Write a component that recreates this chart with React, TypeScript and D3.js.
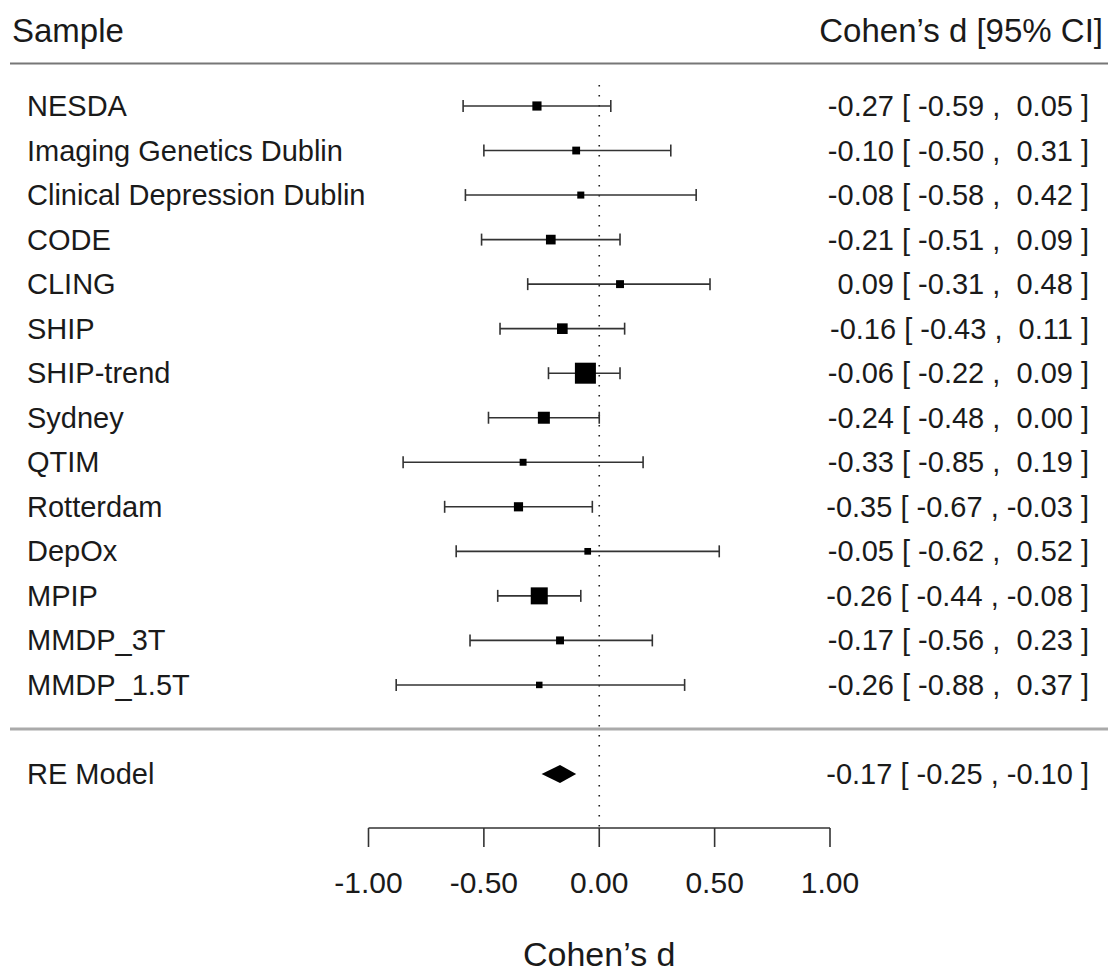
import React, { useEffect, useRef } from 'react';
import * as d3 from 'd3';

const STUDIES = [
  'NESDA',
  'Imaging Genetics Dublin',
  'Clinical Depression Dublin',
  'CODE',
  'CLING',
  'SHIP',
  'SHIP-trend',
  'Sydney',
  'QTIM',
  'Rotterdam',
  'DepOx',
  'MPIP',
  'MMDP_3T',
  'MMDP_1.5T',
];
const ESTIMATES = [-0.27, -0.1, -0.08, -0.21, 0.09, -0.16, -0.06, -0.24, -0.33, -0.35, -0.05, -0.26, -0.17, -0.26];
const LOWER = [-0.59, -0.5, -0.58, -0.51, -0.31, -0.43, -0.22, -0.48, -0.85, -0.67, -0.62, -0.44, -0.56, -0.88];
const UPPER = [0.05, 0.31, 0.42, 0.09, 0.48, 0.11, 0.09, 0.0, 0.19, -0.03, 0.52, -0.08, 0.23, 0.37];

const SUMMARY_LABEL = 'RE Model';
const SUMMARY_EST = -0.17;
const SUMMARY_LB = -0.25;
const SUMMARY_UB = -0.1;

const X_TICKS = [-1, -0.5, 0, 0.5, 1];

// R-style padding: positives get a leading space
const fmt = (v: number) => (v < 0 ? v.toFixed(2) : ' ' + v.toFixed(2));
const ciText = (est: number, lb: number, ub: number) => `${fmt(est)} [ ${fmt(lb)} , ${fmt(ub)} ]`;

export default function App() {
  const svgRef = useRef<SVGSVGElement | null>(null);

  useEffect(() => {
    const svgEl = svgRef.current;
    if (!svgEl) return;
    const width = 1111;
    const height = 973;
    const svg = d3.select(svgEl);
    svg.selectAll('*').remove();
    svg.attr('viewBox', `0 0 ${width} ${height}`);

    const font = '"Liberation Sans", Arial, Helvetica, sans-serif';
    const ink = '#1a1a1a';
    const lineCol = '#333';

    const x = d3.scaleLinear().domain([-1, 1]).range([368.5, 830]);
    // row positions: 0..13 studies, 15 = summary
    const y = d3.scaleLinear().domain([0, 15]).range([106, 774]);

    const data = STUDIES.map((name, i) => {
      const se = (UPPER[i] - LOWER[i]) / 3.92;
      return { name, est: ESTIMATES[i], lb: LOWER[i], ub: UPPER[i], w: 1 / (se * se), row: i };
    });
    // square size grows with inverse-variance weight
    const size = d3
      .scaleLinear()
      .domain(d3.extent(data, d => d.w) as [number, number])
      .range([6.5, 21]);

    svg.append('rect').attr('width', width).attr('height', height).attr('fill', '#fff');

    // header
    svg.append('text').attr('x', 12).attr('y', 42).attr('font-family', font)
      .attr('font-size', 33).attr('fill', ink).text('Sample');
    svg.append('text').attr('x', 1103).attr('y', 42).attr('text-anchor', 'end')
      .attr('font-family', font).attr('font-size', 33).attr('fill', ink)
      .text('Cohen\u2019s d [95% CI]');

    svg.append('line').attr('x1', 10).attr('x2', 1108).attr('y1', 63.5).attr('y2', 63.5)
      .attr('stroke', '#777').attr('stroke-width', 2);
    svg.append('line').attr('x1', 10).attr('x2', 1108).attr('y1', 729).attr('y2', 729)
      .attr('stroke', '#aaa').attr('stroke-width', 3);

    // reference line at 0
    svg.append('line').attr('x1', x(0)).attr('x2', x(0)).attr('y1', 85).attr('y2', 828)
      .attr('stroke', '#222').attr('stroke-width', 1.6).attr('stroke-dasharray', '1.6 8.4');

    // study rows
    const rows = svg.append('g').selectAll('g').data(data).enter().append('g');

    rows.append('line')
      .attr('x1', d => x(d.lb)).attr('x2', d => x(d.ub))
      .attr('y1', d => y(d.row)).attr('y2', d => y(d.row))
      .attr('stroke', lineCol).attr('stroke-width', 1.6);
    rows.append('line')
      .attr('x1', d => x(d.lb)).attr('x2', d => x(d.lb))
      .attr('y1', d => y(d.row) - 6).attr('y2', d => y(d.row) + 6)
      .attr('stroke', lineCol).attr('stroke-width', 1.6);
    rows.append('line')
      .attr('x1', d => x(d.ub)).attr('x2', d => x(d.ub))
      .attr('y1', d => y(d.row) - 6).attr('y2', d => y(d.row) + 6)
      .attr('stroke', lineCol).attr('stroke-width', 1.6);
    rows.append('rect')
      .attr('x', d => x(d.est) - size(d.w) / 2)
      .attr('y', d => y(d.row) - size(d.w) / 2)
      .attr('width', d => size(d.w)).attr('height', d => size(d.w))
      .attr('fill', '#000');

    rows.append('text')
      .attr('x', 27).attr('y', d => y(d.row) + 10)
      .attr('font-family', font).attr('font-size', 29).attr('fill', ink)
      .text(d => d.name);
    rows.append('text')
      .attr('x', 1089).attr('y', d => y(d.row) + 10).attr('text-anchor', 'end')
      .attr('font-family', font).attr('font-size', 29).attr('fill', ink)
      .style('white-space', 'pre')
      .text(d => ciText(d.est, d.lb, d.ub));

    // summary diamond
    const sy = y(15);
    svg.append('path')
      .attr('d', `M${x(SUMMARY_LB)},${sy} L${x(SUMMARY_EST)},${sy - 9} L${x(SUMMARY_UB)},${sy} L${x(SUMMARY_EST)},${sy + 9} Z`)
      .attr('fill', '#000');
    svg.append('text').attr('x', 27).attr('y', sy + 10).attr('font-family', font)
      .attr('font-size', 29).attr('fill', ink).text(SUMMARY_LABEL);
    svg.append('text').attr('x', 1089).attr('y', sy + 10).attr('text-anchor', 'end')
      .attr('font-family', font).attr('font-size', 29).attr('fill', ink)
      .style('white-space', 'pre')
      .text(ciText(SUMMARY_EST, SUMMARY_LB, SUMMARY_UB));

    // axis
    const axisY = 828;
    const axis = svg.append('g');
    axis.append('line').attr('x1', x(-1)).attr('x2', x(1)).attr('y1', axisY).attr('y2', axisY)
      .attr('stroke', lineCol).attr('stroke-width', 1.6);
    axis.selectAll('line.tick').data(X_TICKS).enter().append('line')
      .attr('class', 'tick')
      .attr('x1', d => x(d)).attr('x2', d => x(d))
      .attr('y1', axisY).attr('y2', axisY + 19)
      .attr('stroke', lineCol).attr('stroke-width', 1.6);
    axis.selectAll('text').data(X_TICKS).enter().append('text')
      .attr('x', d => x(d)).attr('y', 893).attr('text-anchor', 'middle')
      .attr('font-family', font).attr('font-size', 30).attr('fill', ink)
      .text(d => d.toFixed(2));

    svg.append('text').attr('x', x(0)).attr('y', 966).attr('text-anchor', 'middle')
      .attr('font-family', font).attr('font-size', 34).attr('fill', ink)
      .text('Cohen\u2019s d');
  }, []);

  return (
    <svg
      ref={svgRef}
      width={1111}
      height={973}
      style={{ position: 'absolute', left: 0, top: 0, display: 'block' }}
    />
  );
}
